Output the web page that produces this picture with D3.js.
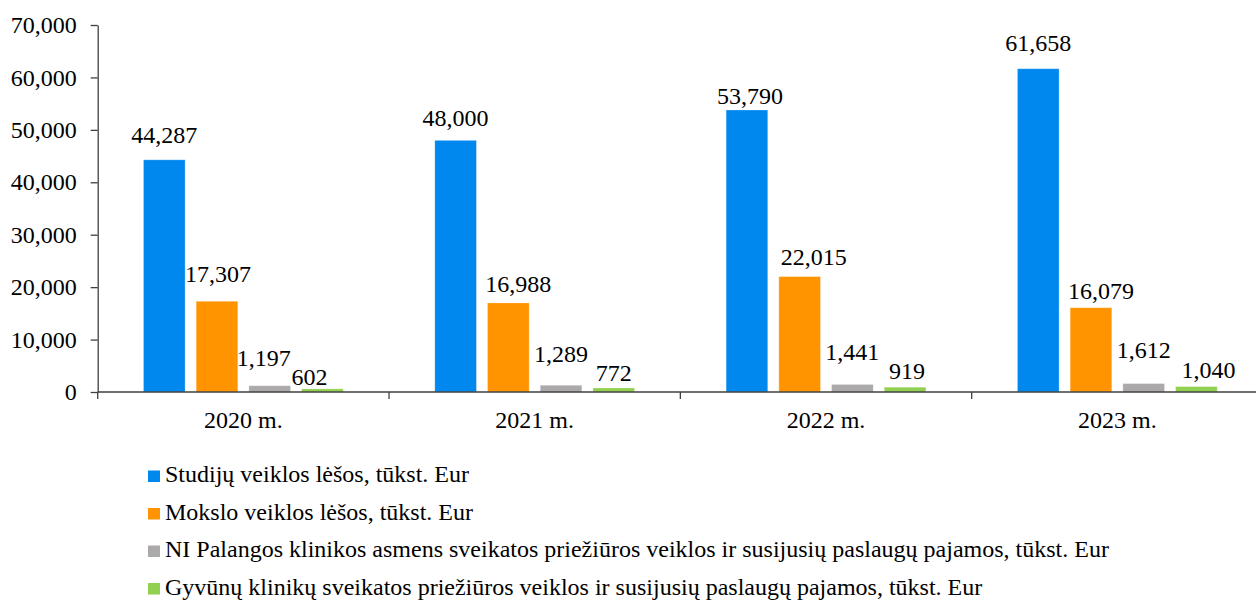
<!DOCTYPE html>
<html>
<head>
<meta charset="utf-8">
<script src="https://cdn.jsdelivr.net/npm/d3@7"></script>
<style>
  html, body { margin: 0; padding: 0; background: #fff; }
  svg { display: block; font-family: "Liberation Serif", "Times New Roman", serif; }
</style>
</head>
<body>
<svg id="chart" width="1256" height="600"></svg>
<script>
// Years shown on the x axis
const years = ["2020 m.", "2021 m.", "2022 m.", "2023 m."];

// Series names (legend)
const seriesNames = [
  "Studijų veiklos lėšos, tūkst. Eur",
  "Mokslo veiklos lėšos, tūkst. Eur",
  "NI Palangos klinikos asmens sveikatos priežiūros veiklos ir susijusių paslaugų pajamos, tūkst. Eur",
  "Gyvūnų klinikų sveikatos priežiūros veiklos ir susijusių paslaugų pajamos, tūkst. Eur"
];

// Values per series, one per year
const studijos = [44287, 48000, 53790, 61658];
const mokslas  = [17307, 16988, 22015, 16079];
const palanga  = [1197, 1289, 1441, 1612];
const gyvunai  = [602, 772, 919, 1040];

// Y axis ticks
const yTicks = [0, 10000, 20000, 30000, 40000, 50000, 60000, 70000];

const seriesValues = [studijos, mokslas, palanga, gyvunai];
const colors = ["#0088EE", "#FF9300", "#ABA9A9", "#92D050"];

// Hand placement of the value labels (pixels): horizontal shift and gap above bar
const labelDx = [
  [0, 0, 3, 0],
  [1, 10, 14, 10],
  [-6, 0, 0, 0],
  [-13, 0, 2, 12]
];
const labelGap = [
  [17, 14, 6, 18],
  [19, 11, 12, 9],
  [20, 23, 24, 26],
  [4, 7, 8, 9]
];

const svg = d3.select("#chart");
const plotL = 97.7, plotR = 1263, plotT = 25, plotB = 392;

const x = d3.scaleBand().domain(years).range([plotL, plotR]).paddingInner(0).paddingOuter(0);
const groupW = 199.8;
const xs = d3.scaleBand().domain(d3.range(4))
  .range([(x.bandwidth() - groupW) / 2, (x.bandwidth() + groupW) / 2])
  .paddingInner(0.21).paddingOuter(0);
const y = d3.scaleLinear().domain([0, 70000]).range([plotB, plotT]);

const fmt = d3.format(",");

// Bars
seriesValues.forEach((vals, si) => {
  svg.append("g").selectAll("rect").data(vals).join("rect")
    .attr("x", (d, i) => x(years[i]) + xs(si))
    .attr("y", d => y(d))
    .attr("width", xs.bandwidth())
    .attr("height", d => y(0) - y(d))
    .attr("fill", colors[si])
    .attr("stroke", "#ffffff")
    .attr("stroke-opacity", 0.35)
    .attr("stroke-width", 0.8);
});

// Value labels
seriesValues.forEach((vals, si) => {
  svg.append("g").selectAll("text").data(vals).join("text")
    .attr("x", (d, i) => x(years[i]) + xs(si) + xs.bandwidth() / 2 + labelDx[si][i])
    .attr("y", (d, i) => y(d) - labelGap[si][i])
    .attr("text-anchor", "middle")
    .attr("font-size", 24)
    .attr("fill", "#000")
    .text(d => fmt(d));
});

// Y axis
const yAxis = d3.axisLeft(y).tickValues(yTicks).tickFormat(fmt).tickSize(7).tickPadding(14).tickSizeOuter(0);
const gy = svg.append("g").attr("transform", `translate(${plotL},0)`).call(yAxis);
gy.select(".domain").attr("stroke", "#404040").attr("stroke-width", 1.3);
gy.selectAll(".tick line").attr("stroke", "#404040").attr("stroke-width", 1.3);
gy.selectAll(".tick text").attr("font-size", 24).attr("fill", "#000")
  .attr("font-family", "Liberation Serif, Times New Roman, serif");

// X axis: line with ticks at the category boundaries
const gx = svg.append("g").attr("transform", `translate(0,${plotB})`);
gx.append("line").attr("x1", plotL).attr("x2", 1256).attr("y1", 0).attr("y2", 0)
  .attr("stroke", "#404040").attr("stroke-width", 1.3);
const bounds = years.map(d => x(d)).concat([x(years[years.length - 1]) + x.bandwidth()]);
gx.selectAll("line.b").data(bounds).join("line").attr("class", "b")
  .attr("x1", d => d).attr("x2", d => d).attr("y1", 0).attr("y2", 7)
  .attr("stroke", "#404040").attr("stroke-width", 1.3);
gx.selectAll("text").data(years).join("text")
  .attr("x", d => x(d) + x.bandwidth() / 2)
  .attr("y", 36)
  .attr("text-anchor", "middle")
  .attr("font-size", 24)
  .attr("fill", "#000")
  .text(d => d);

// Legend
const legend = svg.append("g").attr("transform", "translate(148,0)");
const rowBase = [482, 519.5, 557, 594.5];
seriesNames.forEach((name, i) => {
  legend.append("rect").attr("x", 0).attr("y", rowBase[i] - 11.5).attr("width", 12).attr("height", 11.5)
    .attr("fill", colors[i]);
  legend.append("text").attr("x", 17).attr("y", rowBase[i])
    .attr("font-size", 24).attr("fill", "#000").text(name);
});
</script>
</body>
</html>
